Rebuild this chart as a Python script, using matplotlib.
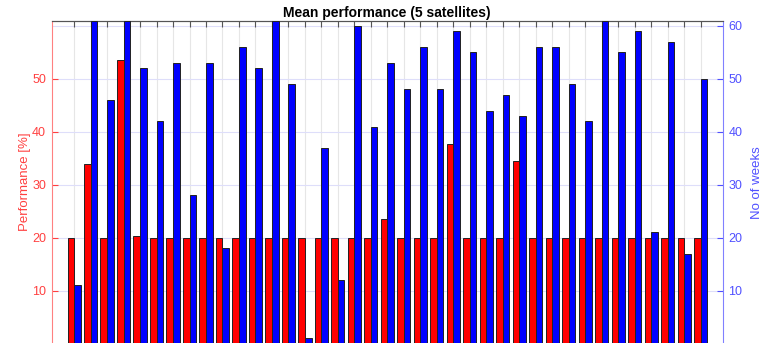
import numpy as np
import matplotlib.pyplot as plt

plt.rcParams['font.family'] = ['Liberation Sans', 'DejaVu Sans']

# mean performance [%] and number of weeks, one pair per satellite group
perf = [20, 33.9, 20, 53.6, 20.3, 20, 20, 20, 20, 20,
        20, 20, 20, 20, 20, 20, 20, 20, 20, 23.5,
        20, 20, 20, 37.7, 20, 20, 20, 34.5, 20, 20,
        20, 20, 20, 20, 20, 20, 20, 20, 20]
weeks = [11, 61, 46, 61, 52, 42, 53, 28, 53, 18,
         56, 52, 61, 49, 1, 37, 12, 60, 41, 53,
         48, 56, 48, 59, 55, 44, 47, 43, 56, 56,
         49, 42, 61, 55, 59, 21, 57, 17, 50]
x = np.arange(1, len(perf) + 1)

red_txt = '#ff4040'
blue_txt = '#5050ff'

fig = plt.figure(figsize=(7.69, 3.43), dpi=100)
ax1 = fig.add_axes([0.0672, -0.0017, 0.8726, 0.9414])
ax2 = ax1.twinx()

ax1.bar(x - 0.2, perf, width=0.4, color='#ff0000', edgecolor='#222222', linewidth=0.7, zorder=3)
ax2.bar(x + 0.2, weeks, width=0.4, color='#0000ff', edgecolor='#222222', linewidth=0.7, zorder=3)

ax1.set_xlim(-0.36, 40.34)
ax1.set_ylim(0, 61)
ax2.set_ylim(0, 61)

# grid
ax1.set_axisbelow(True)
ax1.set_xticks(x)
ax1.grid(axis='x', color='#e6e6e6', linewidth=0.8)
ax1.set_yticks([10, 20, 30, 40, 50])
ax1.grid(axis='y', color='#dedefa', linewidth=0.8)
ax1.axhline(60, color='#dedefa', linewidth=0.8, zorder=0)

ax1.tick_params(axis='x', top=True, bottom=False, labelbottom=False, direction='in',
                length=4, color='#555555')
ax1.tick_params(axis='y', direction='in', length=4, color=red_txt, labelcolor=red_txt,
                labelsize=9, pad=4)
ax2.set_yticks([10, 20, 30, 40, 50, 60])
ax2.tick_params(axis='y', direction='in', length=4, color=blue_txt, labelcolor=blue_txt,
                labelsize=9, pad=4)

ax1.spines['left'].set_color('#ff8080')
ax1.spines['top'].set_color('#555555')
ax1.spines['right'].set_visible(False)
ax2.spines['left'].set_visible(False)
ax2.spines['bottom'].set_visible(False)
ax2.spines['right'].set_color('#8080ff')
ax2.spines['top'].set_color('#555555')

ax1.set_ylabel('Performance [%]', color=red_txt, fontsize=9.5, labelpad=1)
ax2.set_ylabel('No of weeks', color=blue_txt, fontsize=9.5, rotation=90, labelpad=6)
ax1.set_title('Mean performance (5 satellites)', fontsize=10, fontweight='bold', pad=2.5)

plt.savefig('out.png', dpi=100)
